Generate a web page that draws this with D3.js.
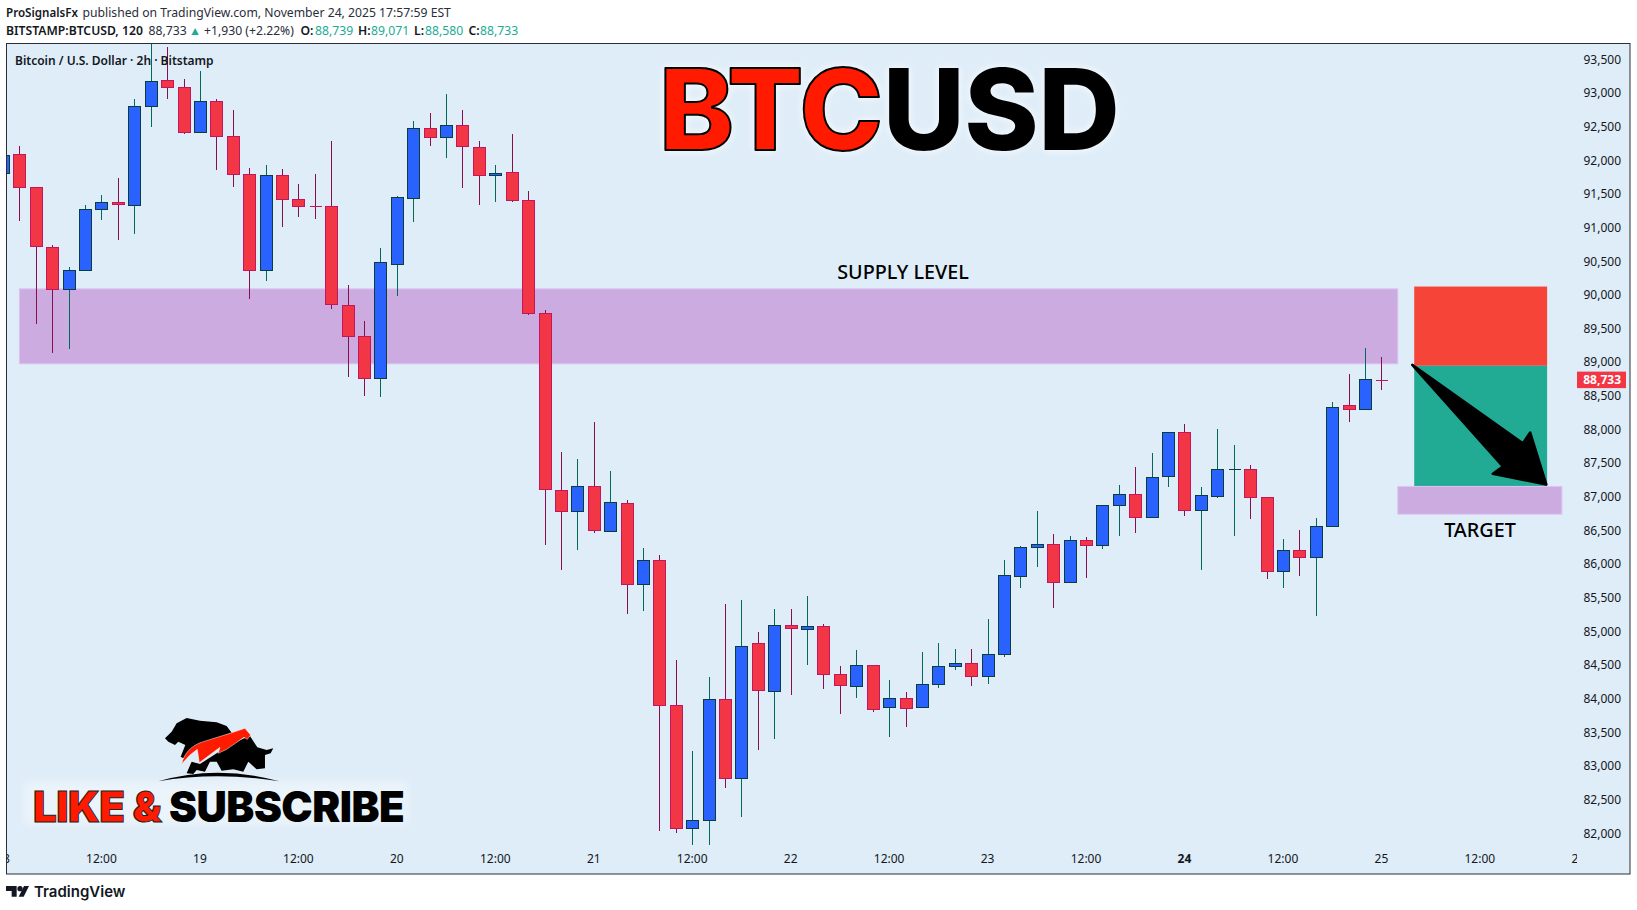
<!DOCTYPE html>
<html>
<head>
<meta charset="utf-8">
<title>BTCUSD</title>
<script src="https://cdn.jsdelivr.net/npm/d3@7"></script>
<style>
  html, body { margin: 0; padding: 0; background: #fff; }
  svg { display: block; }
  text { font-family: 'Noto Sans', sans-serif; }
</style>
</head>
<body>
<div id="chart"></div>
<script>
// --- Kerzen (2h, ab 18. Nov 00:00) ---
const opens = [
  91811, 92094, 91604, 90712, 90084, 90366, 91277, 91381, 91331, 92806, 93192, 93089, 92420, 92881, 92361, 91797, 90366,
  91782, 91425, 91325, 91321, 89851, 89390, 88767, 90455, 91435, 92479, 92340, 92524, 92197, 91776, 91826, 91410, 89732,
  87103, 86787, 87163, 86490, 86910, 85703, 86064, 83911, 82079, 82198, 84000, 82822, 84831, 84114, 85099, 85034, 85084,
  84371, 84188, 84505, 83876, 84015, 83876, 84222, 84485, 84534, 84336, 84668, 85818, 86249, 86299, 85729, 86358, 86279,
  86873, 87041, 86695, 87303, 87962, 86799, 87006, 87408, 87412, 86997, 85893, 86210, 86101, 86566, 88363, 88303, 88739
];
const highs = [
  92074, 92217, 91604, 90737, 90415, 91336, 91490, 91742, 92915, 93800, 93682, 93212, 93326, 92915, 92752, 91891, 91935,
  91876, 91652, 91801, 92291, 90153, 89618, 90702, 91474, 92588, 92707, 92980, 92751, 92291, 91935, 92395, 91548, 89781,
  87658, 87554, 88118, 87376, 86945, 86232, 86128, 84569, 83218, 84317, 85401, 85460, 84985, 85326, 85326, 85519, 85114,
  84480, 84718, 84505, 84272, 84094, 84688, 84821, 84732, 84732, 85178, 86066, 86274, 86794, 86452, 86422, 86408, 86878,
  87180, 87447, 87655, 87962, 88086, 87150, 88011, 87774, 87472, 86997, 86378, 86511, 86690, 88412, 88828, 89214, 89071
];
const lows = [
  91811, 91094, 89574, 89134, 89188, 90366, 91118, 90812, 90910, 92490, 92915, 92395, 92420, 91861, 91608, 89945, 90198,
  91014, 91152, 91133, 89796, 88786, 88504, 88489, 89989, 91088, 92217, 92039, 91593, 91341, 91385, 91385, 89707, 86277,
  85906, 86217, 86455, 86475, 85252, 85297, 82035, 82005, 81822, 81822, 82668, 82238, 83232, 83396, 84049, 84495, 84138,
  83767, 84005, 83797, 83426, 83574, 83876, 84153, 84421, 84183, 84213, 84614, 85650, 85962, 85353, 85729, 85799, 86229,
  86422, 86467, 86695, 87150, 86719, 85917, 86987, 86422, 86675, 85784, 85650, 85828, 85234, 86566, 88115, 88303, 88580
];
const closes = [
  92074, 91604, 90727, 90084, 90371, 91277, 91381, 91346, 92806, 93178, 93089, 92415, 92881, 92361, 91797, 90366, 91782,
  91420, 91316, 91318, 89865, 89385, 88767, 90489, 91454, 92479, 92340, 92524, 92207, 91776, 91811, 91405, 89727, 87113,
  86787, 87163, 86504, 86925, 85703, 86064, 83906, 82079, 82203, 84000, 82822, 84787, 84128, 85099, 85049, 85084, 84366,
  84203, 84505, 83846, 84015, 83861, 84222, 84490, 84534, 84336, 84668, 85838, 86254, 86299, 85729, 86358, 86279, 86878,
  87041, 86695, 87294, 87962, 86799, 87026, 87412, 87414, 86992, 85893, 86210, 86101, 86566, 88333, 88303, 88749, 88733
];

// --- Achsen ---
const priceTicks = d3.range(82000, 94000, 500);
const timeTicks = [
  [18, 0], [18, 12], [19, 0], [19, 12], [20, 0], [20, 12], [21, 0], [21, 12], [22, 0], [22, 12],
  [23, 0], [23, 12], [24, 0], [24, 12], [25, 0], [25, 12], [26, 0]
];

// --- Zonen: [Balken von, Balken bis, Preis oben, Preis unten] ---
const supplyZone = [1, 85, 90089, 88975];
const targetZone = [85, 95, 87154, 86742];
const stopBox = [86, 94.1, 90123, 88946];
const profitBox = [86, 94.1, 88946, 87158];

// Pfeil in Balken / Preis
const arrowBars = [85.88, 92.62, 93.07, 94.05, 90.79, 91.40];
const arrowPrices = [88960, 87796, 87955, 87183, 87342, 87450];

const lastPrice = 88733;

// --- Layout ---
const width = 1637, height = 910;
const frame = { left: 6.5, top: 43.5, right: 1630, bottom: 874 };
const paneRight = 1577;

const COLORS = {
  bg: '#dfedf8', frame: '#2a2e39', text: '#131722', zone: '#ccabe0', zoneEdge: '#dfc2f2',
  up: '#2962ff', upEdge: '#0a3d3d', upWick: '#00695c',
  down: '#f23645', downEdge: '#c2185b', downWick: '#880e4f',
  stop: '#f64438', profit: '#22ab94', red: '#ff1a00', teal: '#22ab94'
};

const timeOf = i => Date.UTC(2025, 10, 18) + i * 2 * 3600 * 1000;

const x = d3.scaleUtc()
  .domain([timeOf(0), timeOf(96)])
  .range([3, 1578.3]);

const y = d3.scaleLinear()
  .domain([82000, 93500])
  .range([833.4, 59.2]);

const svg = d3.select('#chart').append('svg')
  .attr('width', width)
  .attr('height', height);

const defs = svg.append('defs');
defs.append('clipPath').attr('id', 'pane').append('rect')
  .attr('x', frame.left).attr('y', frame.top)
  .attr('width', frame.right - frame.left).attr('height', frame.bottom - frame.top);
defs.append('clipPath').attr('id', 'time-axis').append('rect')
  .attr('x', frame.left).attr('y', frame.top)
  .attr('width', paneRight - frame.left).attr('height', frame.bottom - frame.top);

// Hintergrund
svg.append('rect')
  .attr('x', frame.left).attr('y', frame.top)
  .attr('width', frame.right - frame.left).attr('height', frame.bottom - frame.top)
  .attr('fill', COLORS.bg);

// --- Kopfzeilen ---
const headerLines = [
  { base: 17, parts: [
    ['ProSignalsFx', 6, 600, COLORS.text, 11.6],
    ['published on TradingView.com, November 24, 2025 17:57:59 EST', 82.5, 400, '#2a2e39']
  ] },
  { base: 35, parts: [
    ['BITSTAMP:BTCUSD, 120', 6, 600, COLORS.text],
    ['88,733', 148.5, 400, '#2a2e39'],
    ['\u25B2', 189, 400, COLORS.teal],
    ['+1,930 (+2.22%)', 204, 400, '#2a2e39'],
    ['O:', 300.5, 600, COLORS.text],
    ['88,739', 315, 400, COLORS.teal],
    ['H:', 358, 600, COLORS.text],
    ['89,071', 371, 400, COLORS.teal],
    ['L:', 414, 600, COLORS.text],
    ['88,580', 425, 400, COLORS.teal],
    ['C:', 468.5, 600, COLORS.text],
    ['88,733', 480, 400, COLORS.teal]
  ] }
];
headerLines.forEach(line => {
  line.parts.forEach(p => {
    svg.append('text')
      .attr('x', p[1]).attr('y', line.base)
      .attr('font-size', p[4] || 12.2)
      .attr('font-weight', p[2])
      .attr('fill', p[3])
      .text(p[0]);
  });
});

// --- Zonen ---
const pane = svg.append('g').attr('clip-path', 'url(#pane)');

function drawZone(z, fill, edge) {
  pane.append('rect')
    .attr('x', x(timeOf(z[0])))
    .attr('y', y(z[2]))
    .attr('width', x(timeOf(z[1])) - x(timeOf(z[0])))
    .attr('height', y(z[3]) - y(z[2]))
    .attr('fill', fill)
    .attr('stroke', edge || 'none')
    .attr('stroke-width', 1);
}

drawZone(supplyZone, COLORS.zone, COLORS.zoneEdge);
drawZone(stopBox, COLORS.stop);
drawZone(profitBox, COLORS.profit);
drawZone(targetZone, COLORS.zone, COLORS.zoneEdge);

// --- Kerzen ---
const candles = opens.map((o, i) => ({ i, o, h: highs[i], l: lows[i], c: closes[i], up: closes[i] >= o }));
const snap = v => Math.round(v) + 0.5;

const candle = pane.append('g').attr('class', 'candles')
  .selectAll('g')
  .data(candles)
  .enter()
  .append('g')
  .attr('shape-rendering', 'crispEdges');

candle.append('line')
  .attr('x1', d => snap(x(timeOf(d.i))))
  .attr('x2', d => snap(x(timeOf(d.i))))
  .attr('y1', d => y(d.h))
  .attr('y2', d => y(d.l))
  .attr('stroke', d => d.up ? COLORS.upWick : COLORS.downWick)
  .attr('stroke-width', 1);

// Pfad statt rect, damit auch Dojis ohne Koerperhoehe sichtbar bleiben
candle.append('path')
  .attr('d', d => {
    const left = snap(x(timeOf(d.i))) - 6;
    const top = snap(y(Math.max(d.o, d.c)));
    const h = Math.round(Math.abs(y(d.o) - y(d.c)));
    return `M${left},${top}h12v${h}h-12Z`;
  })
  .attr('fill', d => d.up ? COLORS.up : COLORS.down)
  .attr('stroke', d => d.up ? COLORS.upEdge : COLORS.downEdge)
  .attr('stroke-width', 1);

// --- Pfeil ---
const arrowPath = d3.line()
  .x(d => x(timeOf(d[0])))
  .y(d => y(d[1]))
  .curve(d3.curveLinearClosed);

pane.append('path')
  .attr('d', arrowPath(arrowBars.map((b, i) => [b, arrowPrices[i]])))
  .attr('fill', '#000')
  .attr('stroke', '#000')
  .attr('stroke-width', 2.5)
  .attr('stroke-linejoin', 'round');

// --- Beschriftungen im Chart ---
svg.append('text')
  .attr('x', 15).attr('y', 65)
  .attr('font-size', 12)
  .attr('font-weight', 600)
  .attr('fill', COLORS.text)
  .text('Bitcoin / U.S. Dollar \u00B7 2h \u00B7 Bitstamp');

svg.append('text')
  .attr('x', 903).attr('y', 279)
  .attr('text-anchor', 'middle')
  .attr('font-size', 19.8)
  .attr('font-weight', 500)
  .attr('fill', '#000')
  .text('SUPPLY LEVEL');

svg.append('text')
  .attr('x', 1480).attr('y', 537)
  .attr('text-anchor', 'middle')
  .attr('font-size', 19.8)
  .attr('font-weight', 500)
  .attr('fill', '#000')
  .text('TARGET');

// BTCUSD Titel
const title = svg.append('text')
  .attr('x', 659).attr('y', 149.7)
  .attr('font-size', 113)
  .attr('font-weight', 800)
  .attr('letter-spacing', -0.6)
  .style('font-family', 'Inter, sans-serif')
  .style('filter', 'drop-shadow(0 0 4px rgba(255,255,255,0.9))');
title.append('tspan')
  .attr('fill', COLORS.red)
  .attr('stroke', '#000')
  .attr('stroke-width', 2)
  .attr('stroke-linejoin', 'round')
  .text('BTC');
title.append('tspan').attr('fill', '#000').text('USD');

// --- Like & Subscribe ---
svg.append('rect')
  .attr('x', 24).attr('y', 782).attr('width', 384).attr('height', 42)
  .attr('fill', '#fff')
  .attr('fill-opacity', 0.4)
  .style('filter', 'blur(5px)');

const subscribe = svg.append('text')
  .attr('x', 33).attr('y', 821.5)
  .attr('font-size', 42)
  .attr('font-weight', 900)
  .attr('letter-spacing', -0.5)
  .style('font-family', 'Inter, sans-serif');
subscribe.append('tspan')
  .attr('fill', COLORS.red)
  .attr('stroke', '#222')
  .attr('stroke-width', 1)
  .text('LIKE & ');
subscribe.append('tspan').attr('fill', '#000').text('SUBSCRIBE');

// Logo: Baer und Bulle
const logo = svg.append('g')
  .attr('transform', 'translate(0,690) scale(0.3333)');
logo.append('path')
  .attr('fill', '#000')
  .attr('d', 'M495,145 L515,125 L530,100 L560,84 L600,92 L650,97 L680,108 L695,128 L640,150 L590,165 L565,185 L550,205 L542,200 L556,165 L535,155 L525,165 L505,155 Z');
logo.append('path')
  .attr('fill', '#000')
  .attr('d', 'M560,250 L575,215 L600,222 L650,190 L720,150 L750,138 L772,172 L800,180 L820,175 L812,190 L795,195 L795,235 L770,238 L745,215 L730,245 L700,238 L665,242 L650,215 L630,215 L615,245 L590,240 L580,252 Z');
logo.append('path')
  .attr('fill', '#000')
  .attr('d', 'M475,274 Q650,222 838,274 Q650,244 475,274 Z');
logo.append('path')
  .attr('fill', COLORS.red)
  .attr('stroke', '#fff')
  .attr('stroke-width', 1.5)
  .attr('d', 'M545,222 C552,190 575,165 610,155 L690,130 L735,115 L752,135 L742,148 L732,142 L680,178 L655,190 L660,172 L598,218 L592,178 L570,195 Z');

// --- TradingView Marke ---
const tvMark = svg.append('g')
  .attr('fill', COLORS.text)
  .attr('transform', 'translate(0,690) scale(0.3333)');
tvMark.append('path').attr('d', 'M18,588 H50 V620 H35 V603 H18 Z M56,620 L72,588 H87 L71,620 Z');
tvMark.append('circle').attr('cx', 60).attr('cy', 596).attr('r', 8);

svg.append('text')
  .attr('x', 34).attr('y', 897)
  .attr('font-size', 15)
  .attr('font-weight', 600)
  .attr('fill', COLORS.text)
  .style('font-family', 'Inter, sans-serif')
  .text('TradingView');

// --- Y-Achse ---
const yAxis = d3.axisRight(y)
  .tickValues(priceTicks)
  .tickSize(0)
  .tickFormat(d3.format(','));

const yAxisG = svg.append('g')
  .attr('transform', 'translate(1621,0)')
  .call(yAxis);
yAxisG.select('.domain').remove();
yAxisG.selectAll('text')
  .attr('x', 0)
  .attr('text-anchor', 'end')
  .attr('font-size', 12)
  .attr('fill', COLORS.text)
  .style('font-family', "'Noto Sans', sans-serif");

// Preisschild
svg.append('rect')
  .attr('x', 1577).attr('y', y(lastPrice) - 8.5)
  .attr('width', 49).attr('height', 16.5)
  .attr('fill', COLORS.down);
svg.append('text')
  .attr('x', 1621).attr('y', y(lastPrice) + 4)
  .attr('text-anchor', 'end')
  .attr('font-size', 12)
  .attr('font-weight', 700)
  .attr('fill', '#fff')
  .text(d3.format(',')(lastPrice));

// --- X-Achse ---
const tickTime = t => Date.UTC(2025, 10, t[0], t[1]);
const xAxis = d3.axisBottom(x)
  .tickValues(timeTicks.map(tickTime))
  .tickSize(0)
  .tickFormat((d, i) => timeTicks[i][1] === 12 ? '12:00' : String(timeTicks[i][0]));

const xAxisG = svg.append('g')
  .attr('clip-path', 'url(#time-axis)')
  .append('g')
  .attr('transform', 'translate(-0.5,854.5)')
  .call(xAxis);
xAxisG.select('.domain').remove();
xAxisG.selectAll('text')
  .attr('y', 0)
  .attr('dy', '0.71em')
  .attr('font-size', 12)
  .attr('font-weight', (d, i) => timeTicks[i][0] === 24 && timeTicks[i][1] === 0 ? 700 : 400)
  .attr('fill', COLORS.text)
  .style('font-family', "'Noto Sans', sans-serif");

// --- Rahmen ---
svg.append('rect')
  .attr('x', frame.left).attr('y', frame.top)
  .attr('width', frame.right - frame.left).attr('height', frame.bottom - frame.top)
  .attr('fill', 'none')
  .attr('stroke', COLORS.frame)
  .attr('stroke-width', 1);
</script>
</body>
</html>
